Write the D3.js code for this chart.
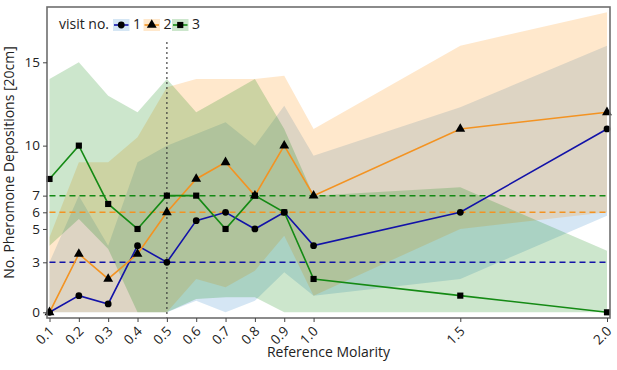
<!DOCTYPE html>
<html>
<head>
<meta charset="utf-8">
<script src="https://cdn.jsdelivr.net/npm/d3@7"></script>
<style>
  html, body { margin: 0; padding: 0; background: #fff; }
  svg { display: block; font-family: "Open Sans", "Noto Sans", sans-serif; }
</style>
</head>
<body>
<svg id="chart" width="617" height="370"></svg>
<script>
// ---- data ----
const molarity = [0.1, 0.2, 0.3, 0.4, 0.5, 0.6, 0.7, 0.8, 0.9, 1.0, 1.5, 2.0];
const visit1 = [0, 1, 0.5, 4, 3, 5.5, 6, 5, 6, 4, 6, 11];
const visit2 = [0, 3.5, 2, 3.5, 6, 8, 9, 7, 10, 7, 11, 12];
const visit3 = [8, 10, 6.5, 5, 7, 7, 5, 7, 6, 2, 1, 0];
const low1  = [0, 0, 0, 0, 0, 0.7, 0, 0.7, 2.4, 1, 2, 5.8];
const high1 = [3, 7, 4, 9, 10, 10.7, 11.4, 10, 12.4, 9.4, 12.3, 16];
const low2  = [0, 0, 0, 0, 0, 2, 1.5, 2.5, 4.6, 1, 5, 6];
const high2 = [4.5, 9, 9, 10.5, 13.5, 14, 14, 14, 14.2, 11, 16, 18];
const low3  = [4, 5.6, 3.8, 0, 0, 0.8, 0.9, 0.9, 0, 0, 0, 0];
const high3 = [14, 15, 13, 12, 14, 12, 13, 14, 11, 7, 7.5, 3.7];
const medians = [3, 6, 7];
const visitLabels = ["1", "2", "3"];
const yTicks = [0, 3, 5, 6, 7, 10, 15];
const xTicks = [0.1, 0.2, 0.3, 0.4, 0.5, 0.6, 0.7, 0.8, 0.9, 1.0, 1.5, 2.0];
const refLine = 0.5;
const refLineTop = 16.2;

// ---- styles ----
const lineColors = ["#1212a8", "#f39322", "#148a14"];
const bandColors = ["#2f80c8", "#ff8c00", "#008000"];
const bandOpacity = 0.2;
const markers = [d3.symbolCircle, d3.symbolTriangle, d3.symbolSquare];
const markerSizes = [36, 42, 38];

const svg = d3.select("#chart");
const frame = { left: 47, top: 7, right: 610, bottom: 318 };

const x = d3.scaleLinear().domain([0.1, 2.0]).range([49.5, 607]);
const y = d3.scaleLinear().domain([0, 15]).range([312.3, 62.3]);

const series = [visit1, visit2, visit3];
const lows = [low1, low2, low3];
const highs = [high1, high2, high3];

// bands
const area = d3.area().x(d => x(d.x)).y0(d => y(d.lo)).y1(d => y(d.hi));
series.forEach((s, i) => {
  const pts = molarity.map((m, j) => ({ x: m, lo: lows[i][j], hi: highs[i][j] }));
  svg.append("path").datum(pts).attr("d", area)
    .attr("fill", bandColors[i]).attr("fill-opacity", bandOpacity);
});

// median dashed lines
medians.forEach((m, i) => {
  svg.append("line")
    .attr("x1", x(molarity[0])).attr("x2", x(molarity[molarity.length - 1]))
    .attr("y1", y(m)).attr("y2", y(m))
    .attr("stroke", lineColors[i]).attr("stroke-width", 1.5)
    .attr("stroke-dasharray", "6,4");
});

// vertical dotted reference
svg.append("line")
  .attr("x1", x(refLine)).attr("x2", x(refLine))
  .attr("y1", y(refLineTop)).attr("y2", frame.bottom)
  .attr("stroke", "#333").attr("stroke-width", 1.5)
  .attr("stroke-dasharray", "1.5,3.5");

// lines + markers
const line = d3.line().x(d => x(d.x)).y(d => y(d.v));
series.forEach((s, i) => {
  const pts = molarity.map((m, j) => ({ x: m, v: s[j] }));
  svg.append("path").datum(pts).attr("d", line)
    .attr("fill", "none").attr("stroke", lineColors[i]).attr("stroke-width", 1.6);
  svg.append("g").selectAll("path").data(pts).join("path")
    .attr("transform", d => `translate(${x(d.x)},${y(d.v)})`)
    .attr("d", d3.symbol().type(markers[i]).size(markerSizes[i]))
    .attr("fill", "#000");
});

// frame
svg.append("rect")
  .attr("x", frame.left).attr("y", frame.top)
  .attr("width", frame.right - frame.left).attr("height", frame.bottom - frame.top)
  .attr("fill", "none").attr("stroke", "#6e6e6e").attr("stroke-width", 1.6);

// axes
const yAxis = svg.append("g").attr("transform", `translate(${frame.left},0)`)
  .call(d3.axisLeft(y).tickValues(yTicks).tickSize(4).tickPadding(3));
yAxis.select(".domain").remove();
yAxis.selectAll("line").attr("stroke", "#444");
yAxis.selectAll("text").attr("font-size", 13.5).attr("fill", "#222")
  .attr("font-family", "Open Sans, sans-serif");

const xAxis = svg.append("g").attr("transform", `translate(0,${frame.bottom})`)
  .call(d3.axisBottom(x).tickValues(xTicks).tickFormat(d3.format(".1f")).tickSize(4));
xAxis.select(".domain").remove();
xAxis.selectAll("line").attr("stroke", "#444");
xAxis.selectAll("text")
  .attr("font-size", 13.5).attr("fill", "#222").attr("font-family", "Open Sans, sans-serif")
  .attr("x", 0).attr("y", 0).attr("dy", 0)
  .attr("text-anchor", "end")
  .attr("transform", "translate(5,14) rotate(-45)");

// axis titles
svg.append("text")
  .attr("transform", `translate(14,${(frame.top + frame.bottom) / 2}) rotate(-90)`)
  .attr("text-anchor", "middle").attr("font-size", 14).attr("fill", "#222")
  .text("No. Pheromone Depositions [20cm]");
svg.append("text")
  .attr("x", (frame.left + frame.right) / 2).attr("y", 357)
  .attr("text-anchor", "middle").attr("font-size", 14).attr("fill", "#222")
  .text("Reference Molarity");

// legend
const lg = svg.append("g");
lg.append("text").attr("x", 59).attr("y", 29).attr("font-size", 14).attr("fill", "#222").text("visit no.");
const legendX = [113, 143.5, 172];
visitLabels.forEach((lab, i) => {
  const lx = legendX[i];
  lg.append("rect").attr("x", lx).attr("y", 19).attr("width", 16.5).attr("height", 12)
    .attr("fill", bandColors[i]).attr("fill-opacity", bandOpacity);
  lg.append("line").attr("x1", lx + 1).attr("x2", lx + 15.5).attr("y1", 25).attr("y2", 25)
    .attr("stroke", lineColors[i]).attr("stroke-width", 1.6);
  lg.append("path").attr("transform", `translate(${lx + 8.25},25)`)
    .attr("d", d3.symbol().type(markers[i]).size(markerSizes[i])).attr("fill", "#000");
  lg.append("text").attr("x", lx + 20).attr("y", 29).attr("font-size", 14).attr("fill", "#222").text(lab);
});
</script>
</body>
</html>
